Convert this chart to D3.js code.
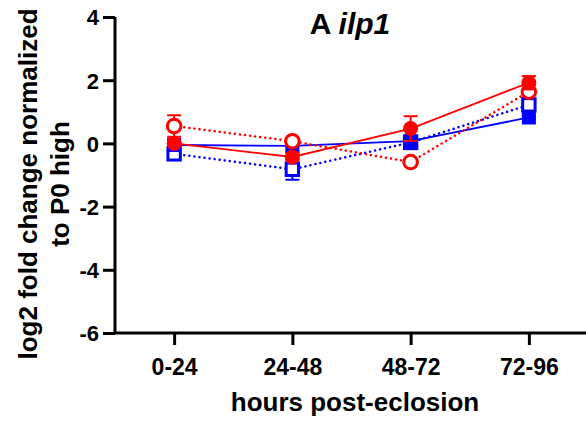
<!DOCTYPE html>
<html>
<head>
<meta charset="utf-8">
<script src="https://cdn.jsdelivr.net/npm/d3@7"></script>
<style>
  html, body { margin: 0; padding: 0; background: #fff; }
  svg { display: block; font-family: "Liberation Sans", Arial, sans-serif; }
</style>
</head>
<body>
<svg id="chart" width="586" height="421"></svg>
<script>
// Time windows after eclosion
const categories = ["0-24", "24-48", "48-72", "72-96"];
const yTicks = [-6, -4, -2, 0, 2, 4];

// log2 fold change, mean and error per group
const redFilledMean = [0.00, -0.43, 0.47, 1.92];
const redFilledErr  = [0.05, 0.12, 0.39, 0.21];
const redOpenMean   = [0.55, 0.07, -0.59, 1.64];
const redOpenErr    = [0.34, 0.08, 0.08, 0.08];
const blueFilledMean = [-0.05, -0.08, 0.07, 0.82];
const blueFilledErr  = [0.08, 0.2, 0.12, 0.05];
const blueOpenMean   = [-0.33, -0.82, 0.03, 1.22];
const blueOpenErr    = [0.08, 0.33, 0.08, 0.08];

const series = [
  { mean: blueOpenMean,   err: blueOpenErr,   color: "#0000ff", shape: "square", filled: false, dashed: true },
  { mean: blueFilledMean, err: blueFilledErr, color: "#0000ff", shape: "square", filled: true,  dashed: false },
  { mean: redOpenMean,    err: redOpenErr,    color: "#ff0000", shape: "circle", filled: false, dashed: true },
  { mean: redFilledMean,  err: redFilledErr,  color: "#ff0000", shape: "circle", filled: true,  dashed: false }
];

const svg = d3.select("#chart");
const plotLeft = 115, plotRight = 588, plotTop = 17, plotBottom = 333;

const x = d3.scalePoint().domain(categories).range([plotLeft, plotRight]).padding(0.5);
const y = d3.scaleLinear().domain([-6, 4]).range([plotBottom, plotTop]);

// Axes (plain hyphen for negative labels)
const yAxis = svg.append("g")
  .attr("transform", `translate(${plotLeft},0)`)
  .call(d3.axisLeft(y).tickValues(yTicks).tickFormat(d => String(d))
    .tickSize(12).tickPadding(4).tickSizeOuter(0));
const xAxis = svg.append("g")
  .attr("transform", `translate(0,${plotBottom})`)
  .call(d3.axisBottom(x).tickSize(12).tickPadding(14).tickSizeOuter(0));

[yAxis, xAxis].forEach(g => {
  g.select(".domain").attr("stroke", "#000").attr("stroke-width", 3);
  g.selectAll(".tick line").attr("stroke", "#000").attr("stroke-width", 3);
  g.selectAll(".tick text").attr("fill", "#000").attr("font-weight", "bold")
    .attr("font-family", "Liberation Sans, Arial, sans-serif");
});
yAxis.selectAll(".tick text").attr("font-size", 22).attr("dy", "0.36em");
xAxis.selectAll(".tick text").attr("font-size", 23);
// x axis line runs from the y axis to the right edge
xAxis.select(".domain").attr("d", `M${plotLeft - 1.5},0H${586}`);
yAxis.select(".domain").attr("d", `M0,${plotTop}V${plotBottom}`);

// Lines
const line = d3.line().x((d, i) => x(categories[i])).y(d => y(d));
const plot = svg.append("g");
series.forEach(s => {
  plot.append("path")
    .datum(s.mean)
    .attr("d", line)
    .attr("fill", "none")
    .attr("stroke", s.color)
    .attr("stroke-width", s.dashed ? 2.5 : 1.8)
    .attr("stroke-dasharray", s.dashed ? "0.1,5" : null)
    .attr("stroke-linecap", s.dashed ? "round" : "butt");
});

// Error bars and markers
series.forEach(s => {
  const g = plot.append("g");
  s.mean.forEach((m, i) => {
    const cx = x(categories[i]);
    const hi = y(m + s.err[i]), lo = y(m - s.err[i]);
    g.append("line").attr("x1", cx).attr("x2", cx).attr("y1", hi).attr("y2", lo)
      .attr("stroke", s.color).attr("stroke-width", 2);
    [hi, lo].forEach(cy => {
      g.append("line").attr("x1", cx - 7).attr("x2", cx + 7).attr("y1", cy).attr("y2", cy)
        .attr("stroke", s.color).attr("stroke-width", 2);
    });
  });
  s.mean.forEach((m, i) => {
    const cx = x(categories[i]), cy = y(m);
    if (s.shape === "circle") {
      g.append("circle").attr("cx", cx).attr("cy", cy)
        .attr("r", s.filled ? 7.5 : 6.8)
        .attr("fill", s.filled ? s.color : "#fff")
        .attr("stroke", s.color).attr("stroke-width", s.filled ? 0 : 3);
    } else {
      const h = s.filled ? 7 : 6.2;
      g.append("rect").attr("x", cx - h).attr("y", cy - h)
        .attr("width", 2 * h).attr("height", 2 * h)
        .attr("fill", s.filled ? s.color : "#fff")
        .attr("stroke", s.color).attr("stroke-width", s.filled ? 0 : 3);
    }
  });
});

// Title
const title = svg.append("text")
  .attr("x", 350).attr("y", 34)
  .attr("text-anchor", "middle")
  .attr("font-size", 30).attr("font-weight", "bold").attr("fill", "#000");
title.append("tspan").text("A ");
title.append("tspan").attr("font-style", "italic").text("ilp1");

// Axis titles
svg.append("text")
  .attr("x", 355).attr("y", 411)
  .attr("text-anchor", "middle")
  .attr("font-size", 26).attr("font-weight", "bold").attr("fill", "#000")
  .text("hours post-eclosion");

const yTitle = svg.append("text")
  .attr("transform", "translate(0,184) rotate(-90)")
  .attr("text-anchor", "middle")
  .attr("font-size", 26).attr("font-weight", "bold").attr("fill", "#000");
yTitle.append("tspan").attr("x", 0).attr("y", 37).text("log2 fold change normalized");
yTitle.append("tspan").attr("x", 0).attr("y", 69).text("to P0 high");
</script>
</body>
</html>
